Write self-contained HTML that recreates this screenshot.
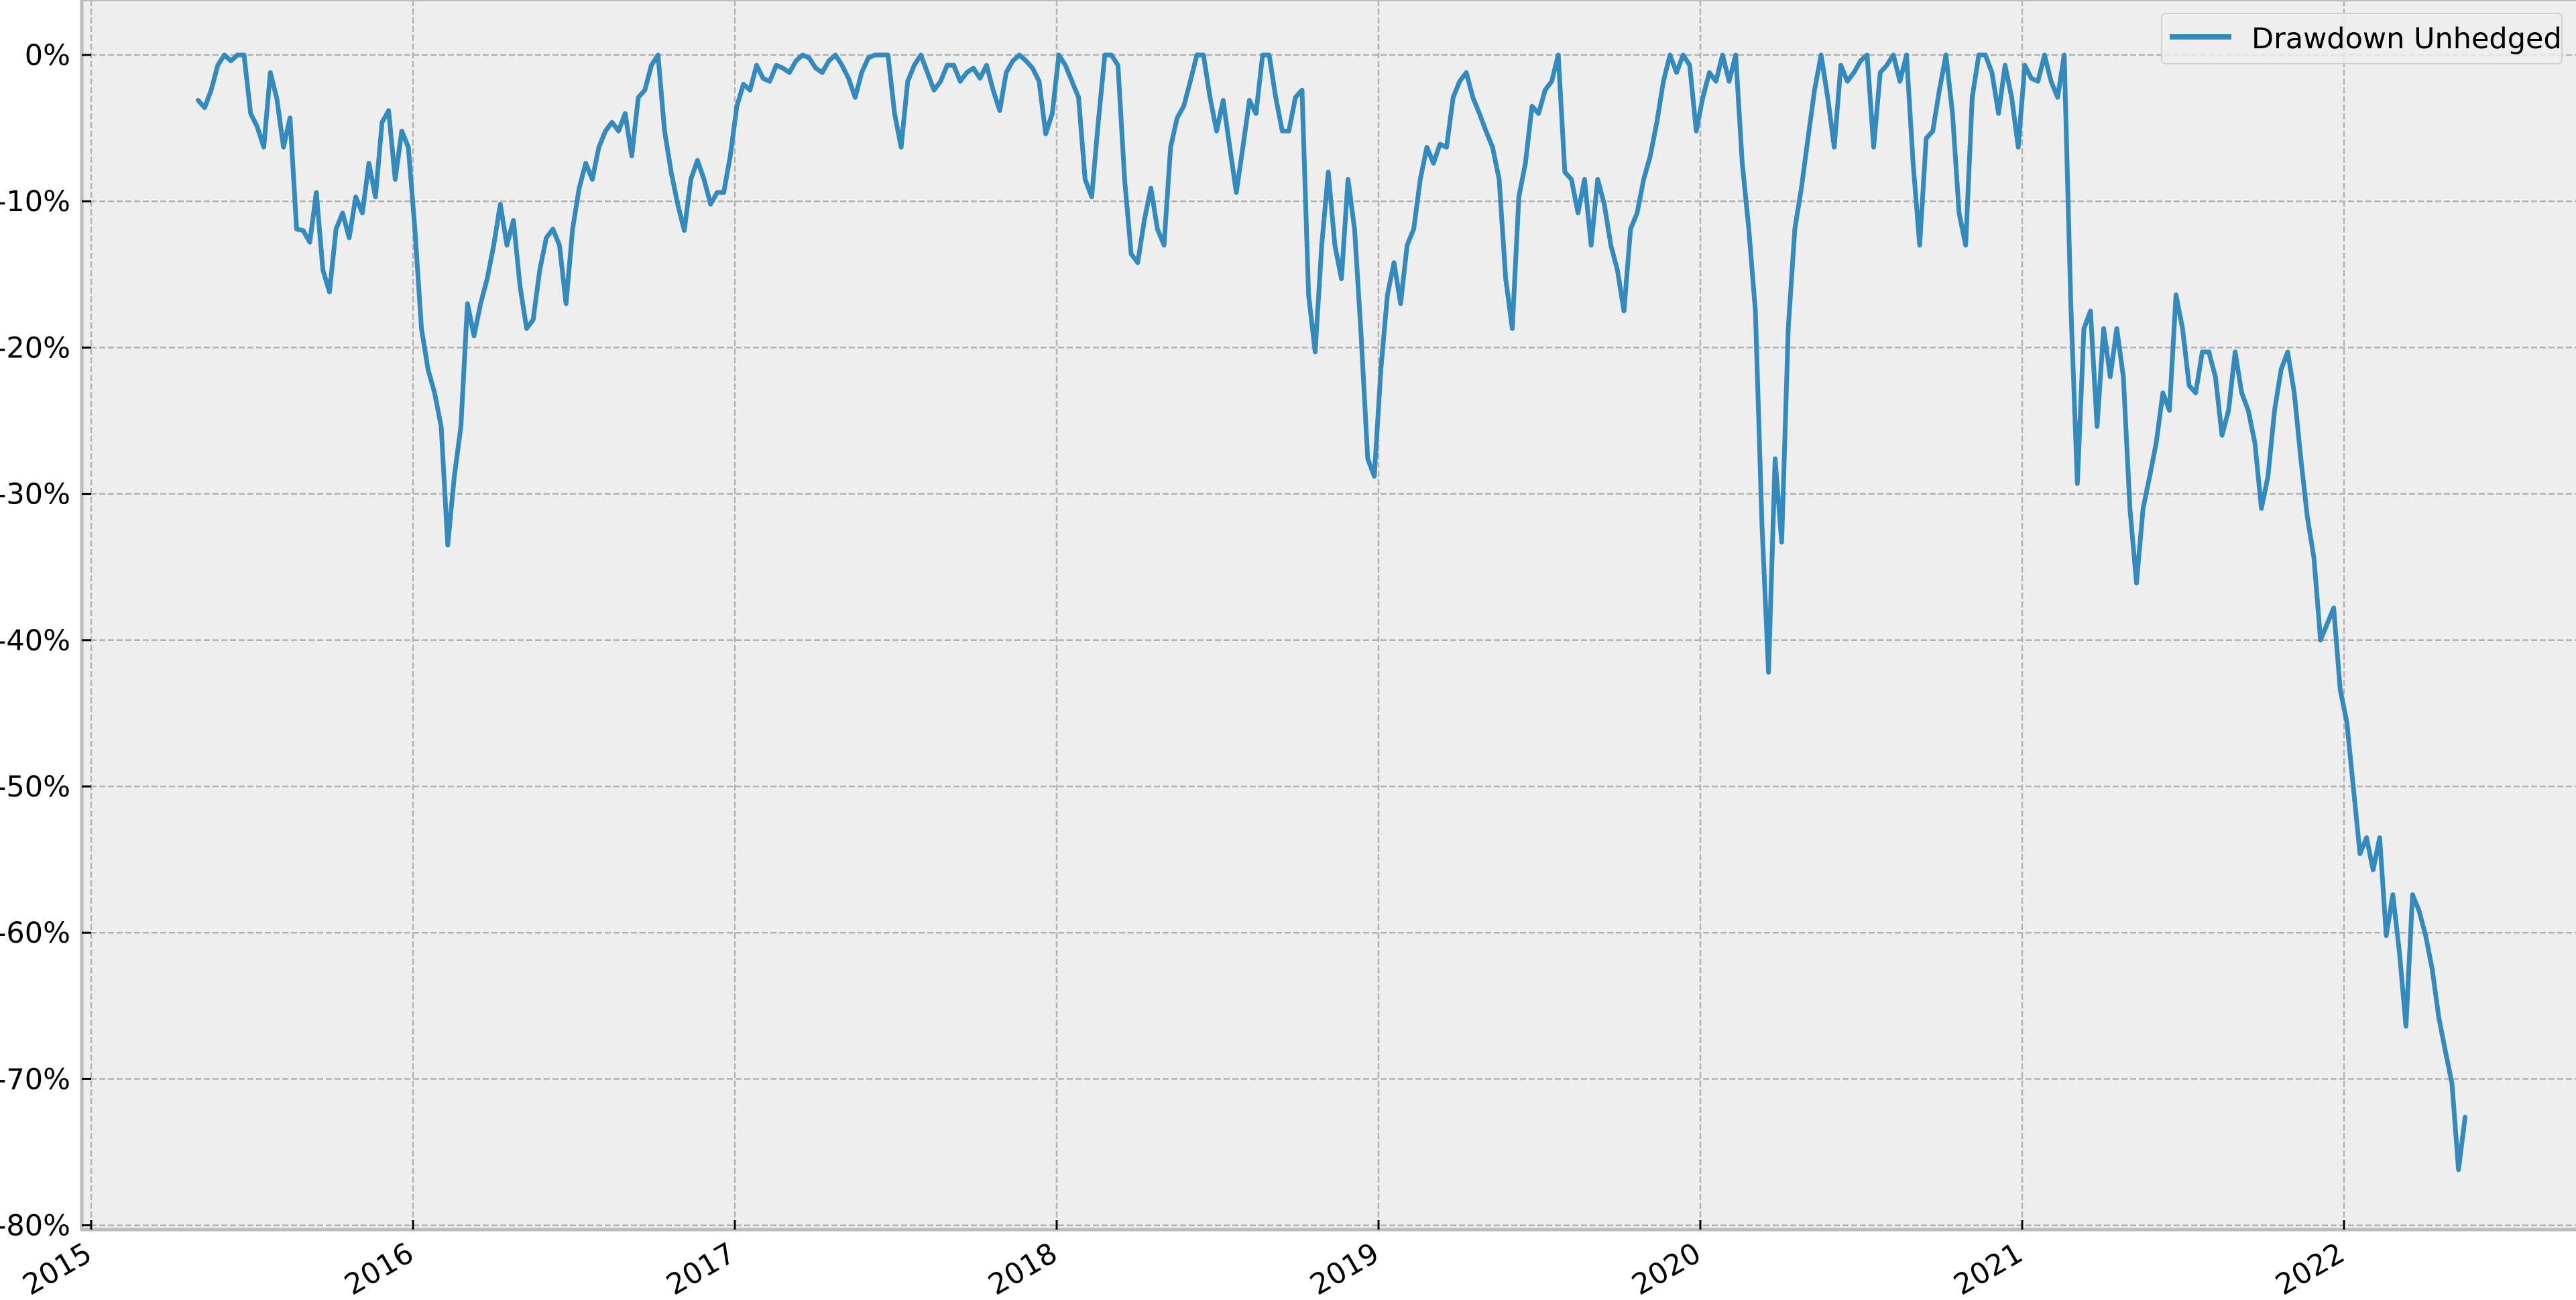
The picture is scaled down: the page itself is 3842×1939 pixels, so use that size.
<!DOCTYPE html>
<html><head><meta charset="utf-8"><style>
html,body{margin:0;padding:0;background:#fff;}
svg{display:block;font-family:"DejaVu Sans","Liberation Sans",sans-serif;}
</style></head><body>
<svg id="chart" width="3842" height="1939" viewBox="0 0 3842 1939" xmlns="http://www.w3.org/2000/svg">
<rect x="122" y="0" width="3720" height="1833" fill="#eeeeee"/>
<g id="grid"></g>
<g id="series"></g>
<line x1="122" y1="0" x2="122" y2="1835" stroke="#bcbcbc" stroke-width="5"/>
<line x1="120" y1="1834" x2="3842" y2="1834" stroke="#bcbcbc" stroke-width="5"/>
<line x1="122" y1="1" x2="3842" y2="1" stroke="#bcbcbc" stroke-width="2"/>
<g id="ticks"></g>
<g>
<rect x="3224" y="20" width="597" height="75" rx="6" fill="#eeeeee" fill-opacity="0.8" stroke="#d0d0d0" stroke-width="2"/>
<line x1="3236" y1="55" x2="3328" y2="55" stroke="#348ABD" stroke-width="8"/>
<text x="3358" y="72" font-size="43" fill="#000">Drawdown Unhedged</text>
</g>
</svg>
<script>
const yearTicks = [2015,2016,2017,2018,2019,2020,2021,2022];
const pctTicks = [0,-10,-20,-30,-40,-50,-60,-70,-80];
const startYear = 2015.332;
const stepYears = 0.020418;
const drawdown = [-3.1,-3.6,-2.4,-0.7,0,-0.4,0,0,-4.0,-4.9,-6.3,-1.2,-3.0,-6.3,-4.3,-11.9,-12,-12.8,-9.4,-14.7,-16.2,-11.9,-10.8,-12.5,-9.7,-10.8,-7.4,-9.7,-4.6,-3.8,-8.5,-5.2,-6.3,-11.9,-18.7,-21.5,-23.1,-25.4,-33.5,-28.8,-25.4,-17.0,-19.2,-17.0,-15.3,-13.0,-10.2,-13.0,-11.3,-15.8,-18.7,-18.1,-14.7,-12.5,-11.9,-13.0,-17.0,-11.9,-9.1,-7.4,-8.5,-6.3,-5.2,-4.6,-5.2,-4.0,-6.9,-2.9,-2.4,-0.7,0,-5.2,-8.0,-10.2,-12,-8.5,-7.2,-8.5,-10.2,-9.4,-9.4,-6.9,-3.5,-2.0,-2.4,-0.7,-1.6,-1.8,-0.7,-0.9,-1.2,-0.4,0,-0.2,-0.9,-1.2,-0.4,0,-0.7,-1.6,-2.9,-1.2,-0.2,0,0,0,-4.0,-6.3,-1.8,-0.7,0,-1.2,-2.4,-1.8,-0.7,-0.7,-1.8,-1.2,-0.9,-1.6,-0.7,-2.4,-3.8,-1.2,-0.4,0,-0.4,-0.9,-1.8,-5.4,-4.0,0,-0.7,-1.8,-2.9,-8.5,-9.7,-4.6,0,0,-0.7,-8.5,-13.6,-14.2,-11.3,-9.1,-11.9,-13.0,-6.3,-4.3,-3.5,-1.8,0,0,-2.9,-5.2,-3.1,-6.3,-9.4,-6.3,-3.1,-4.0,0,0,-2.9,-5.2,-5.2,-2.9,-2.4,-16.4,-20.3,-13.0,-8.0,-13.0,-15.3,-8.5,-11.9,-19.2,-27.6,-28.8,-21.5,-16.4,-14.2,-17.0,-13.0,-11.9,-8.5,-6.3,-7.4,-6.1,-6.3,-2.9,-1.8,-1.2,-2.9,-4.0,-5.2,-6.3,-8.5,-15.3,-18.7,-9.7,-7.4,-3.5,-4.0,-2.4,-1.8,0,-8.0,-8.5,-10.8,-8.5,-13.0,-8.5,-10.2,-13.0,-14.7,-17.5,-11.9,-10.8,-8.5,-6.9,-4.6,-1.8,0,-1.2,0,-0.7,-5.2,-2.9,-1.2,-1.8,0,-1.8,0,-7.4,-11.9,-17.5,-32.1,-42.2,-27.6,-33.3,-18.7,-11.9,-9.1,-5.7,-2.4,0,-2.9,-6.3,-0.7,-1.8,-1.2,-0.4,0,-6.3,-1.2,-0.7,0,-1.8,0,-7.4,-13.0,-5.7,-5.2,-2.4,0,-4.0,-10.8,-13.0,-2.9,0,0,-1.2,-4.0,-0.7,-2.9,-6.3,-0.7,-1.6,-1.8,0,-1.8,-2.9,0,-17.0,-29.3,-18.7,-17.5,-25.4,-18.7,-22.0,-18.7,-22.0,-31.0,-36.1,-31.0,-28.8,-26.5,-23.1,-24.3,-16.4,-18.7,-22.6,-23.1,-20.3,-20.3,-22.0,-26.0,-24.3,-20.3,-23.1,-24.3,-26.5,-31.0,-28.8,-24.3,-21.5,-20.3,-23.1,-27.6,-31.6,-34.4,-40.0,-38.9,-37.8,-43.4,-45.6,-50.1,-54.6,-53.5,-55.7,-53.5,-60.2,-57.4,-61.3,-66.4,-57.4,-58.5,-60.2,-62.5,-65.8,-68.1,-70.3,-76.2,-72.6];

const NS = "http://www.w3.org/2000/svg";
function xScale(yr){ return 136 + (yr - 2015) * 480; }
function yScale(p){ return 82 + (-p) * 21.82; }
function mk(tag, attrs, parent){ const e = document.createElementNS(NS, tag); for (const k in attrs) e.setAttribute(k, attrs[k]); parent.appendChild(e); return e; }

const grid = document.getElementById('grid');
const ticks = document.getElementById('ticks');
const series = document.getElementById('series');

pctTicks.forEach(p => {
  const y = yScale(p);
  const g = mk('line', {x1:122, x2:3842, y1:y, y2:y, stroke:'#b2b2b2', 'stroke-width':2.5, 'stroke-dasharray':'9,4'}, grid);
  
  
  const t = mk('line', {x1:122, x2:136, y1:y, y2:y, stroke:'#000', 'stroke-width':3}, ticks);
  
  
  const lb = mk('text', {x:105, y:y + 15, 'text-anchor':'end', 'font-size':43, fill:'#000'}, ticks);
  lb.textContent = p + '%';
  
  
});
yearTicks.forEach(yr => {
  const x = xScale(yr);
  const g = mk('line', {x1:x, x2:x, y1:0, y2:1833, stroke:'#b2b2b2', 'stroke-width':2.5, 'stroke-dasharray':'9,4'}, grid);
  
  
  const t = mk('line', {x1:x, x2:x, y1:1820, y2:1834, stroke:'#000', 'stroke-width':3}, ticks);
  
  
  const lb = mk('text', {x:0, y:0, 'text-anchor':'end', 'font-size':43, fill:'#000', transform:'translate(' + (x + 4) + ',1878) rotate(-30)'}, ticks);
  lb.textContent = String(yr);
  
  
});

const pts = drawdown.map((v, i) => xScale(startYear + i * stepYears).toFixed(1) + ',' + yScale(v).toFixed(1)).join(' ');
const line = mk('polyline', {points:pts, fill:'none', stroke:'#348ABD', 'stroke-width':7, 'stroke-linejoin':'round', 'stroke-linecap':'round'}, series);


</script>
</body></html>
